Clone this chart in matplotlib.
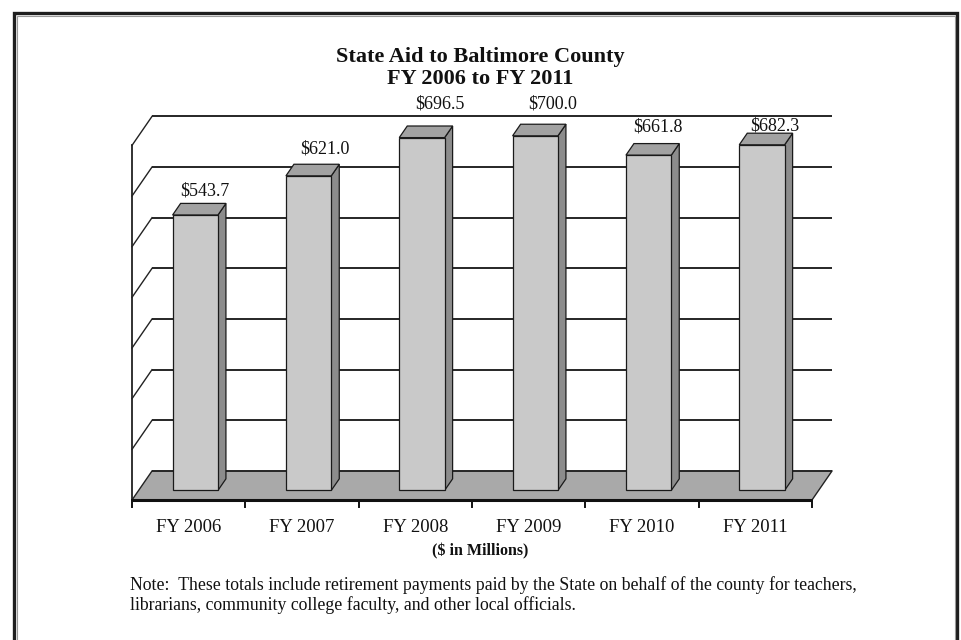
import matplotlib
matplotlib.use("Agg")
import matplotlib.pyplot as plt
from matplotlib.patches import Polygon, Rectangle

# ---- data ----
categories = ["FY 2006", "FY 2007", "FY 2008", "FY 2009", "FY 2010", "FY 2011"]
values = [543.7, 621.0, 696.5, 700.0, 661.8, 682.3]
value_labels = ["$543.7", "$621.0", "$696.5", "$700.0", "$661.8", "$682.3"]
grid_values = [0, 100, 200, 300, 400, 500, 600, 700]

title1 = "State Aid to Baltimore County"
title2 = "FY 2006 to FY 2011"
unit_label = "($ in Millions)"
note1 = "Note:  These totals include retirement payments paid by the State on behalf of the county for teachers,"
note2 = "librarians, community college faculty, and other local officials."

# ---- layout ----
W, H = 961, 640
fig = plt.figure(figsize=(W / 100, H / 100), dpi=100)
fig.patch.set_facecolor("white")
serif = ["Liberation Serif", "DejaVu Serif"]

def fx(px):
    return px / W

def fy(py):
    return 1 - py / H

# front plane: x 132..812, y 500 (0) .. 145.4 (700)
ax = fig.add_axes([fx(132), fy(500), (812 - 132) / W, (500 - 145.4) / H])
ax.set_xlim(-0.5, len(categories) - 0.5)
ax.set_ylim(0, 700)
ax.axis("off")

px_per_cat = 680 / len(categories)
px_per_val = 354.6 / 700
DX = 20 / px_per_cat      # depth vector in data units
DY = 29 / px_per_val

x0, x1 = -0.5, len(categories) - 0.5

# floor
ax.add_patch(Polygon([(x0, 0), (x1, 0), (x1 + DX, DY), (x0 + DX, DY)],
                     closed=True, facecolor="#a9a9a9", edgecolor="none",
                     zorder=1, clip_on=False))
ax.plot([x1, x1 + DX], [0, DY], color="#222222", lw=1.0, zorder=2, clip_on=False)

# back-wall gridlines and side-wall diagonals
for g in grid_values:
    ax.plot([x0 + DX, x1 + DX], [g + DY, g + DY], color="#262626", lw=1.4,
            zorder=1.5, clip_on=False, solid_capstyle="butt")
    ax.plot([x0, x0 + DX], [g, g + DY], color="#222222", lw=1.0,
            zorder=1.5, clip_on=False)

# left front vertical axis
ax.plot([x0, x0], [0, grid_values[-1]], color="#222222", lw=1.3, zorder=4, clip_on=False)

# front axis line with ticks below
ax.plot([x0, x1], [0, 0], color="#111111", lw=2.2, zorder=4, clip_on=False,
        solid_capstyle="butt")
tick_len = 7 / px_per_val
for k in range(len(categories) + 1):
    ax.plot([x0 + k, x0 + k], [0, -tick_len], color="#111111", lw=1.4,
            zorder=4, clip_on=False)

# 3-D bars
d0, d1 = 0.33, 0.73
bw = 0.40
for i, v in enumerate(values):
    l = i - bw / 2 + d0 * DX
    r = i + bw / 2 + d0 * DX
    b = d0 * DY
    t = v + d0 * DY
    ddx = (d1 - d0) * DX
    ddy = (d1 - d0) * DY
    front = [(l, b), (r, b), (r, t), (l, t)]
    side = [(r, b), (r + ddx, b + ddy), (r + ddx, t + ddy), (r, t)]
    top = [(l, t), (r, t), (r + ddx, t + ddy), (l + ddx, t + ddy)]
    for poly, col in ((side, "#8c8c8c"), (top, "#a2a2a2"), (front, "#c9c9c9")):
        ax.add_patch(Polygon(poly, closed=True, facecolor=col, edgecolor="#1a1a1a",
                             lw=0.9, zorder=3, clip_on=False, joinstyle="miter"))

# value labels (pixel offsets above bar top, as placed in the source)
label_dx_px = [2, 8, 10, 9, 1, 5]
label_dy_px = [12, 15, 22, 20, 17, 7]
for i, v in enumerate(values):
    cx = i + d1 * DX
    cy = v + d1 * DY
    ax.annotate(value_labels[i], xy=(cx, cy),
                xytext=(label_dx_px[i] * 0.72, label_dy_px[i] * 0.72),
                textcoords="offset points", ha="center", va="center",
                fontsize=13, family=serif, color="#111111", zorder=5,
                annotation_clip=False)

# category labels
for i, c in enumerate(categories):
    ax.text(i, -28 / px_per_val, c, ha="center", va="center",
            fontsize=13.5, family=serif, color="#111111", clip_on=False)

# titles and notes
fig.text(fx(480), fy(57), title1, ha="center", va="center", fontsize=16,
         fontweight="bold", family=serif, color="#111111")
fig.text(fx(480), fy(79), title2, ha="center", va="center", fontsize=16,
         fontweight="bold", family=serif, color="#111111")
fig.text(fx(480), fy(551), unit_label, ha="center", va="center", fontsize=11.5,
         fontweight="bold", family=serif, color="#111111")
fig.text(fx(130), fy(585), note1, ha="left", va="center", fontsize=12.8,
         family=serif, color="#111111")
fig.text(fx(130), fy(605), note2, ha="left", va="center", fontsize=12.8,
         family=serif, color="#111111")

# outer frame
fig.add_artist(Rectangle((fx(14), fy(700)), fx(957 - 14), fy(13) - fy(700),
                         transform=fig.transFigure, fill=False,
                         edgecolor="#1e1e1e", lw=2.4))
fig.add_artist(Rectangle((fx(16.5), fy(700)), fx(954.5 - 16.5), fy(15.5) - fy(700),
                         transform=fig.transFigure, fill=False,
                         edgecolor="#9a9a9a", lw=0.8))

fig.savefig("out.png", dpi=100, facecolor="white")
